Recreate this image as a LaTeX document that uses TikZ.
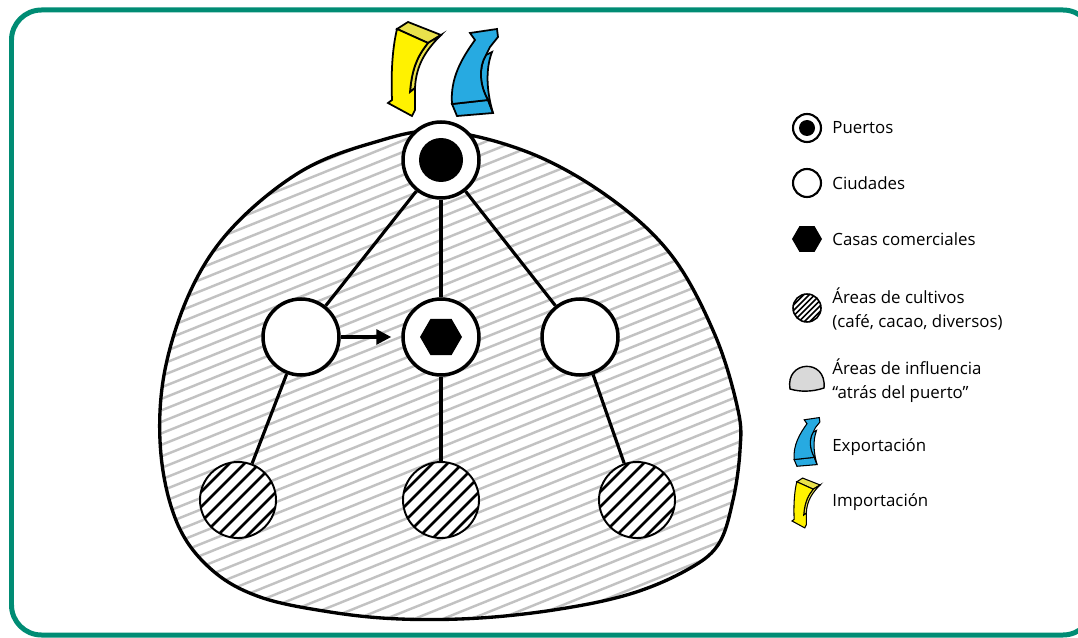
\documentclass[tikz,border=0pt]{standalone}
\usepackage{fontspec}
\setmainfont{Open Sans}
\usetikzlibrary{arrows.meta}

\definecolor{framegreen}{HTML}{008C74}
\definecolor{hatchgray}{HTML}{C2C2C2}
\definecolor{impyellow}{HTML}{FFF200}
\definecolor{impside}{HTML}{E9E14C}
\definecolor{expblue}{HTML}{27AAE1}

\tikzset{
  pics/imparrow/.style={code={
    \filldraw[fill=impside] (9,9) -- (20,2) -- (53,15) -- (40,23) -- cycle;
    \filldraw[fill=impside] (40,23) -- (53,15) .. controls (38,30) and (28,45) .. (27,68)
      -- (22,72) .. controls (24,45) and (32,33) .. (40,23) -- cycle;
    \filldraw[fill=impyellow] (9,9) -- (40,23) .. controls (32,33) and (24,45) .. (22,72)
      -- (27,68) -- (27,90) -- (24,96) -- (0,83) -- (4,80) .. controls (3,55) and (4,30) .. (9,9) -- cycle;
  }},
  pics/exparrow/.style={code={
    \filldraw[fill=expblue] (2,76) -- (38,72) -- (43,85) -- (7,88) -- cycle;
    \filldraw[fill=expblue] (38,72) -- (43,85) .. controls (37,65) and (35,42) .. (42,24)
      -- (36,27) .. controls (28,40) and (30,58) .. (38,72) -- cycle;
    \filldraw[fill=expblue] (2,76) -- (38,72) .. controls (30,58) and (28,40) .. (36,27)
      -- (40,19) -- (48,9) -- (47,1) -- (20,5) -- (25,12) .. controls (12,30) and (0,50) .. (2,76) -- cycle;
  }}
}

\begin{document}
\begin{tikzpicture}[x=0.02cm, y=-0.02cm,
    bignode/.style={circle, draw, fill=white, line width=2pt, minimum size=1.52cm, inner sep=0pt},
    port/.style={bignode, path picture={\fill[black] (path picture bounding box.center) circle (0.44cm);}},
    city/.style={bignode},
    trade/.style={bignode, path picture={\fill[black] (path picture bounding box.center) ++(0:0.42cm)
        -- ++(120:0.42cm) -- ++(180:0.42cm) -- ++(240:0.42cm) -- ++(300:0.42cm) -- ++(0:0.42cm) -- cycle;}},
    crop/.style={circle, draw, fill=white, line width=1.1pt, minimum size=1.52cm, inner sep=0pt,
      path picture={\foreach \k in {-5,...,5}
        \draw[line width=1.5pt] ([xshift=\k*0.3cm]path picture bounding box.center) +(-1cm,-1cm) -- +(1cm,1cm);}},
    link/.style={line width=1.8pt},
    legtext/.style={anchor=west, align=left, inner sep=0pt, font=\fontsize{9.6}{13.6}\selectfont},
    smallport/.style={circle, draw, fill=white, line width=1.2pt, minimum size=0.56cm, inner sep=0pt,
      path picture={\fill[black] (path picture bounding box.center) circle (0.16cm);}},
    smallcity/.style={circle, draw, fill=white, line width=1.2pt, minimum size=0.56cm, inner sep=0pt},
    smallcrop/.style={circle, draw, fill=white, line width=0.9pt, minimum size=0.56cm, inner sep=0pt,
      path picture={\foreach \k in {-4,...,4}
        \draw[line width=0.9pt] ([xshift=\k*0.11cm]path picture bounding box.center) +(-1cm,-1cm) -- +(1cm,1cm);}}
  ]
  \useasboundingbox (0,0) rectangle (1078,638);

  % marco
  \draw[framegreen, line width=0.1cm, rounded corners=0.6cm] (11.5,10) rectangle (1093,635);

  % area de influencia
  \draw[line width=1.9pt, path picture={\foreach \v in {0,...,70}
      \draw[hatchgray, line width=1.4pt] (140,120+\v*11.5) -- ++(640,-258);}]
    plot[smooth cycle, tension=0.6] coordinates {(441,131) (530,153) (610,198) (672,256) (715,335)
      (738,410) (740,450) (733,500) (718,545) (685,571) (630,594) (560,609) (480,618) (400,619)
      (330,612) (260,597) (212,570) (178,525) (161,455) (164,375) (190,292) (232,228) (300,172) (372,143)};

  % nodos
  \node[port]  (port)  at (441,160) {};
  \node[city]  (cityL) at (301,337) {};
  \node[trade] (trade) at (441,337) {};
  \node[city]  (cityR) at (580,337) {};
  \node[crop]  (cropL) at (238,500) {};
  \node[crop]  (cropM) at (441,500) {};
  \node[crop]  (cropR) at (637,500) {};

  \draw[link] (port) -- (cityL);
  \draw[link] (port) -- (trade);
  \draw[link] (port) -- (cityR);
  \draw[link] (cityL) -- (cropL);
  \draw[link] (trade) -- (cropM);
  \draw[link] (cityR) -- (cropR);
  \draw[link, -{Triangle[length=0.3cm, width=0.3cm]}, shorten >=0.2cm] (cityL) -- (trade);

  % flechas
  \pic[line width=1pt] at (388,20) {imparrow};
  \pic[line width=1pt] at (450,28) {exparrow};

  % leyenda
  \node[smallport] (iport) at (807,128) {};
  \node[legtext] (tport) at (832,128) {Puertos};
  \node[smallcity] (icity) at (807,183) {};
  \node[legtext] (tcity) at (832,183) {Ciudades};
  \fill (807,239) ++(0:0.3cm) -- ++(120:0.3cm) -- ++(180:0.3cm) -- ++(240:0.3cm) -- ++(300:0.3cm) -- ++(0:0.3cm) -- cycle;
  \node[legtext] (ttrade) at (832,239) {Casas comerciales};
  \node[smallcrop] (icrop) at (807,308) {};
  \node[legtext] (tcrop) at (832,309) {Áreas de cultivos\\(café, cacao, diversos)};
  \draw[line width=0.8pt, fill=gray!30] (790,389) .. controls (785,360) and (827,358) .. (824,388)
    .. controls (812,392) and (800,392) .. (790,389) -- cycle;
  \node[legtext] (tarea) at (832,381) {Áreas de influencia\\“atrás del puerto”};
  \pic[line width=0.6pt, scale=0.56] at (793,417) {exparrow};
  \node[legtext] (texp) at (832,447) {Exportación};
  \pic[line width=0.6pt, scale=0.53] at (792,477) {imparrow};
  \node[legtext] (timp) at (832,502) {Importación};
\end{tikzpicture}
\end{document}
